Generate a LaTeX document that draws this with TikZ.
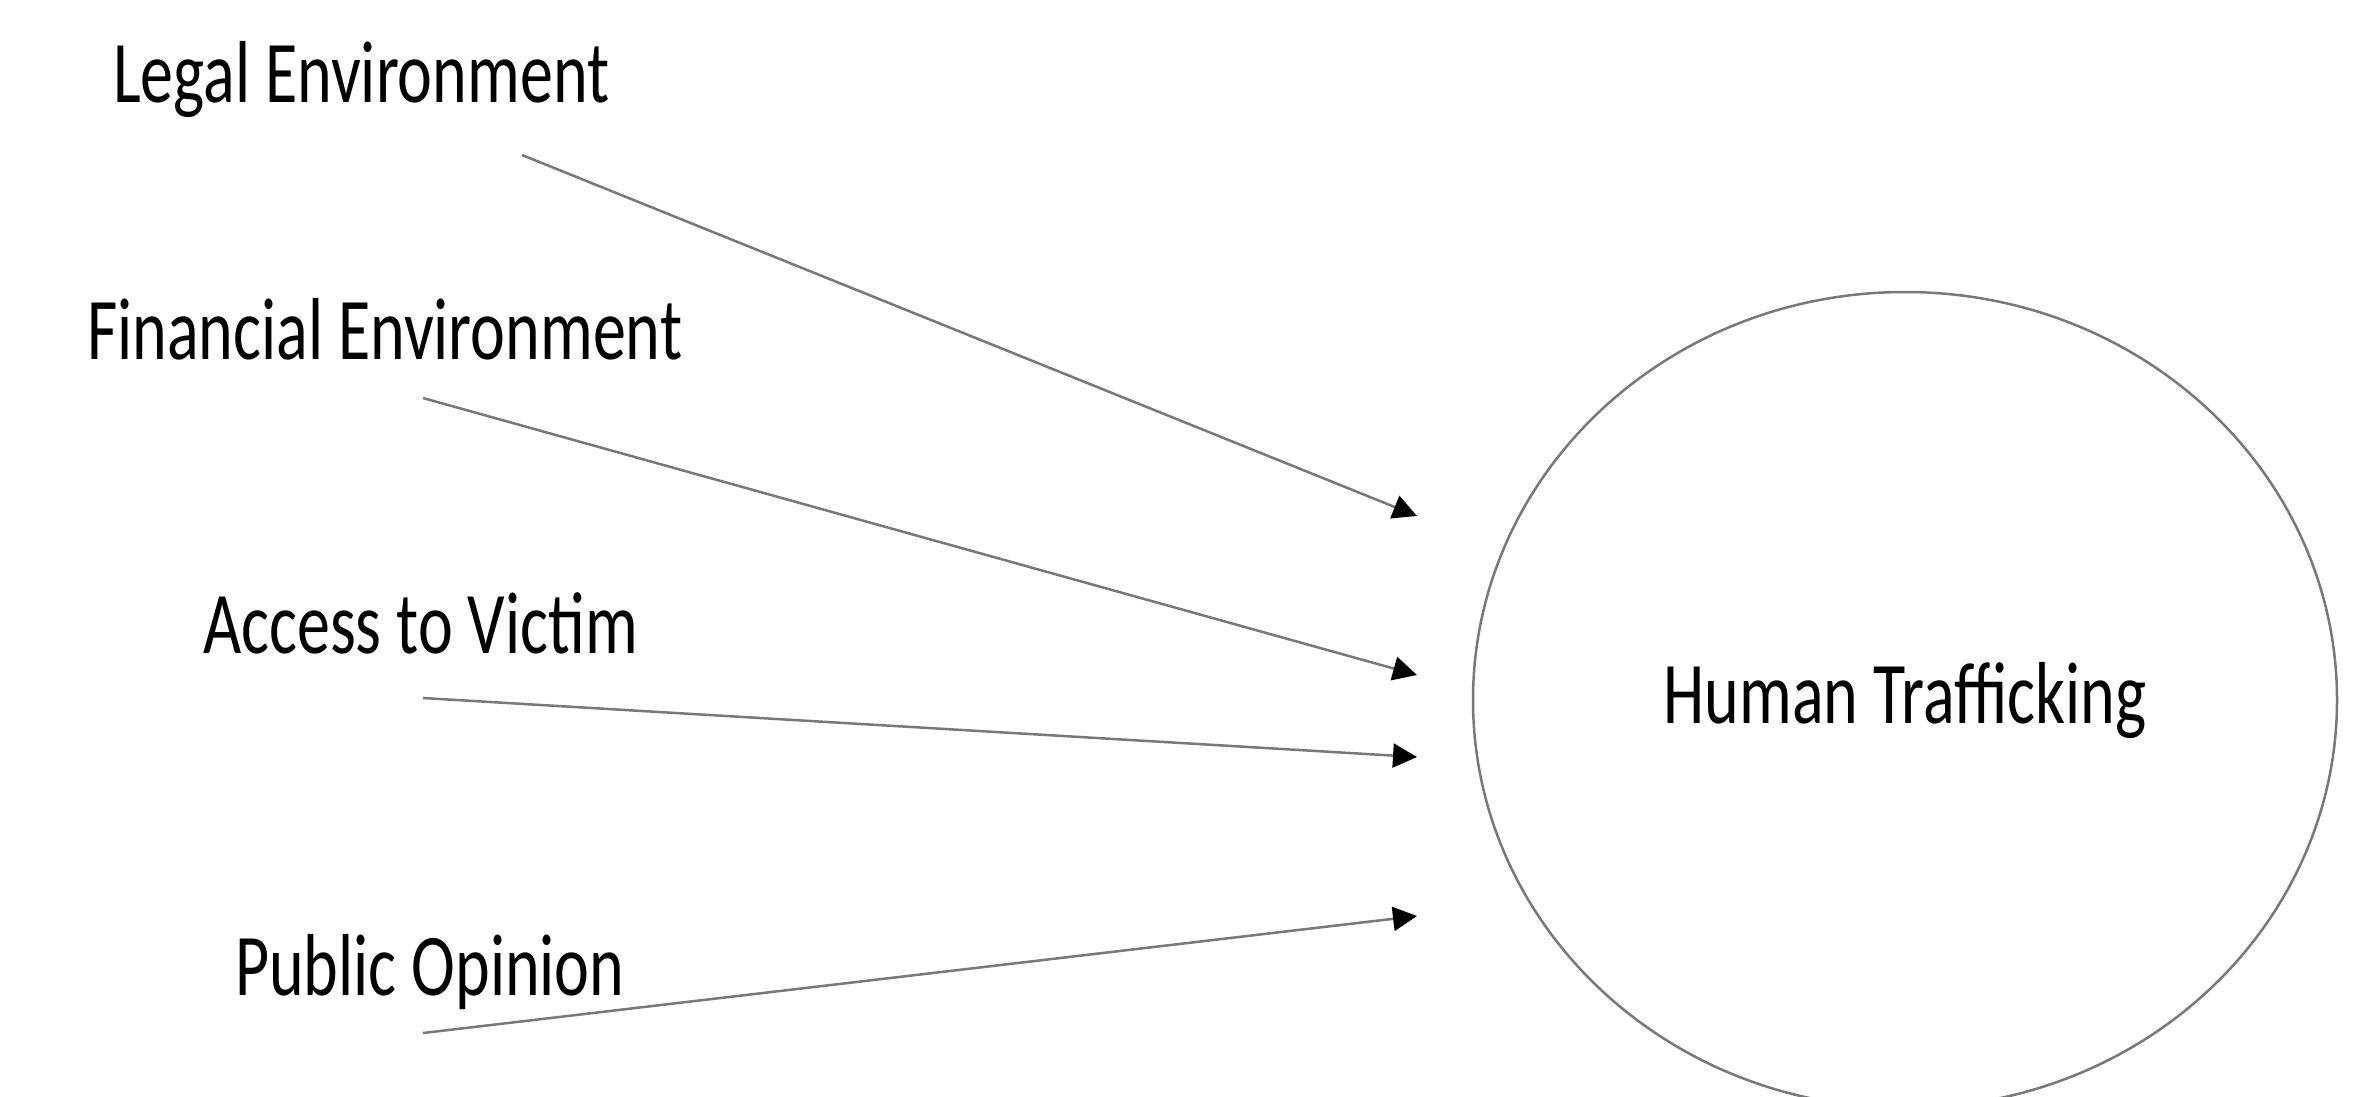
\documentclass[tikz,border=0pt]{standalone}
\usepackage{fontspec}
\setmainfont{Carlito}[FakeStretch=0.75]
\usetikzlibrary{arrows.meta,shapes.geometric}
\definecolor{linegray}{HTML}{787878}
\tikzset{
  lbl/.style={anchor=base west, inner sep=0pt, font=\fontsize{88}{100}\selectfont, text=black},
  conn/.style={draw=linegray, line width=2.5pt, -{Triangle[length=24pt,width=24pt,color=black]}},
  bigell/.style={ellipse, draw=linegray, line width=2.5pt, minimum width=864pt, minimum height=816pt, inner sep=0pt, font=\fontsize{88}{100}\selectfont}
}
\begin{document}
\begin{tikzpicture}[x=1pt,y=-1pt]
\useasboundingbox[fill=white] (0,0) rectangle (2364,1096);
\node[lbl] (legal) at (113,102) {Legal Environment};
\node[lbl] (fin) at (87,359) {Financial Environment};
\node[lbl] (acc) at (203,653) {Access to Victim};
\node[lbl] (pub) at (235,995) {Public Opinion};
\node[bigell] (ht) at (1905,700) {Human Trafficking};
\coordinate (s1) at (522,155);
\coordinate (s2) at (423,398);
\coordinate (s3) at (423,698);
\coordinate (s4) at (423,1033);
\coordinate (t1) at (1417,516);
\coordinate (t2) at (1417,675);
\coordinate (t3) at (1417,757);
\coordinate (t4) at (1417,916);
\draw[conn] (s1) -- (t1);
\draw[conn] (s2) -- (t2);
\draw[conn] (s3) -- (t3);
\draw[conn] (s4) -- (t4);
\end{tikzpicture}
\end{document}
